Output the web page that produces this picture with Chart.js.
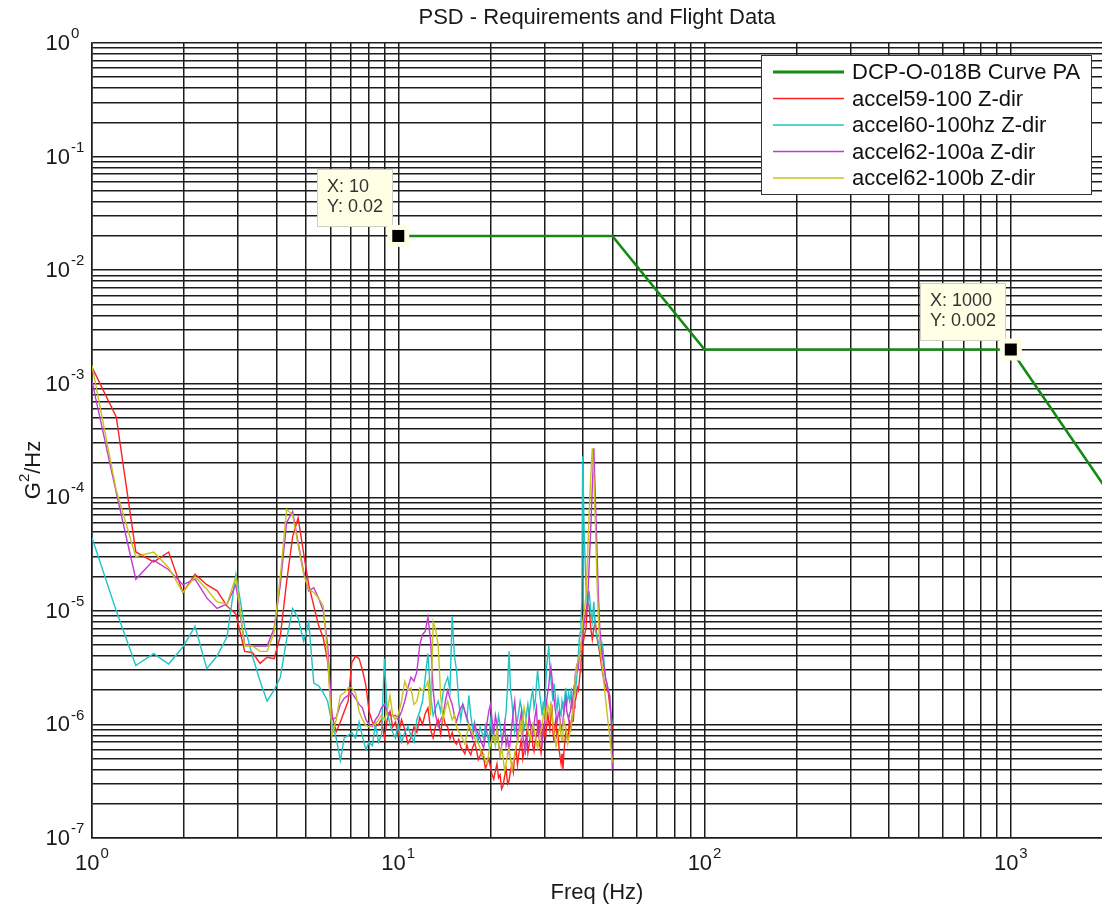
<!DOCTYPE html>
<html>
<head>
<meta charset="utf-8">
<title>PSD - Requirements and Flight Data</title>
<script src="https://cdn.jsdelivr.net/npm/chart.js@4.4.0/dist/chart.umd.min.js"></script>
<style>
  html, body { margin: 0; padding: 0; background: #fff; overflow: hidden; }
  #wrap { position: relative; width: 1104px; height: 909px; }
</style>
</head>
<body>
<div id="wrap"><canvas id="psd"></canvas></div>
<script>
// Frequency bins (Hz) shared by all flight accelerometer PSDs
const freqHz = [
  1.00, 1.20, 1.39, 1.59, 1.78, 1.98, 2.17, 2.37, 2.56, 2.76, 2.95, 3.15, 3.34, 3.54, 3.73, 3.93,
  4.12, 4.32, 4.52, 4.71, 4.91, 5.10, 5.30, 5.49, 5.69, 5.88, 6.08, 6.27, 6.47, 6.66, 6.86, 7.05,
  7.25, 7.45, 7.64, 7.84, 8.03, 8.23, 8.42, 8.62, 8.81, 9.01, 9.20, 9.40, 9.59, 9.79, 9.98,
  10.25, 10.5, 10.75, 11.0, 11.25, 11.5, 11.75, 12.0, 12.25, 12.5, 12.75, 13.0, 13.25, 13.5, 13.75, 14.0,
  14.25, 14.5, 14.75, 15.0, 15.25, 15.5, 15.75, 16.0, 16.25, 16.5, 16.75, 17.0, 17.25, 17.5, 17.75, 18.0,
  18.25, 18.5, 18.75, 19.0, 19.25, 19.5, 19.75, 20.0, 20.25, 20.5, 20.75, 21.0, 21.25, 21.5, 21.75, 22.0,
  22.25, 22.5, 22.75, 23.0, 23.25, 23.5, 23.75, 24.0, 24.25, 24.5, 24.75, 25.0, 25.25, 25.5, 25.75, 26.0,
  26.25, 26.5, 26.75, 27.0, 27.25, 27.5, 27.75, 28.0, 28.25, 28.5, 28.75, 29.0, 29.25, 29.5, 29.75, 30.0,
  30.25, 30.5, 30.75, 31.0, 31.25, 31.5, 31.75, 32.0, 32.25, 32.5, 32.75, 33.0, 33.25, 33.5, 33.75, 34.0,
  34.25, 34.5, 34.75, 35.0, 35.25, 35.5, 35.75, 36.0, 36.25, 36.5, 36.75, 37.0, 37.25, 37.5, 37.75, 38.0,
  38.25, 38.5, 38.75, 39.0, 39.25, 39.5, 39.75, 40.0,
  40.5, 41.0, 41.5, 42.0, 42.5, 43.0, 43.5, 44.0, 44.5, 45.0, 45.5, 46.0, 46.5, 47.0, 47.5, 48.0,
  48.5, 49.0, 49.5, 50.0
];

// G^2/Hz per bin
const accel59 = [
  1.4e-3, 5.1e-4, 3.3e-5, 2.7e-5, 3.3e-5, 1.45e-5, 2.1e-5, 1.7e-5, 1.5e-5, 1.1e-5, 9.4e-6, 4.4e-6, 4.3e-6, 3.45e-6, 3.9e-6, 3.8e-6,
  6.0e-6, 1.8e-5, 4.5e-5, 6.6e-5, 3.2e-5, 1.7e-5, 1.1e-5, 7.5e-6, 5.8e-6, 3.6e-6, 1.2e-6, 8.6e-7, 1.05e-6, 1.3e-6, 1.6e-6, 3.5e-6,
  4.0e-6, 3.8e-6, 3.0e-6, 2.2e-6, 1.3e-6, 1.05e-6, 9.6e-7, 1.0e-6, 1.1e-6, 7.6e-7, 1.1e-6, 1.3e-6, 9.5e-7, 1.05e-6, 8.0e-7,
  1.1e-6, 9.0e-7, 6.8e-7, 7.6e-7, 9.5e-7, 8.5e-7, 1.15e-6, 1.0e-6, 1.25e-6, 1.4e-6, 9.0e-7, 7.6e-7, 9.8e-7, 1.1e-6, 8.2e-7, 1.2e-6,
  1.0e-6, 9.5e-7, 7.5e-7, 8.5e-7, 7.0e-7, 6.7e-7, 7.4e-7, 6.3e-7, 5.9e-7, 5.5e-7, 6.6e-7, 5.8e-7, 5.4e-7, 6.3e-7, 6.9e-7, 6.0e-7,
  4.9e-7, 5.3e-7, 5.8e-7, 5.1e-7, 4.1e-7, 4.5e-7, 5.0e-7, 4.2e-7, 3.6e-7, 3.3e-7, 3.9e-7, 4.5e-7, 3.4e-7, 3.6e-7, 2.7e-7, 2.9e-7,
  3.5e-7, 4.0e-7, 3.0e-7, 3.2e-7, 3.9e-7, 4.5e-7, 3.8e-7, 5.3e-7, 6.0e-7, 4.4e-7, 5.5e-7, 6.3e-7, 7.6e-7, 5.0e-7, 5.8e-7, 7.0e-7,
  8.4e-7, 5.6e-7, 6.6e-7, 8.0e-7, 1.0e-6, 6.4e-7, 5.8e-7, 7.2e-7, 8.0e-7, 9.0e-7, 1.1e-6, 6.5e-7, 5.6e-7, 7.0e-7, 9.5e-7, 8.5e-7,
  7.4e-7, 9.5e-7, 1.3e-6, 1.05e-6, 9.0e-7, 1.2e-6, 1.5e-6, 8.5e-7, 7.0e-7, 1.0e-6, 1.15e-6, 7.5e-7, 8.8e-7, 6.0e-7, 5.2e-7, 4.5e-7,
  5.5e-7, 4.0e-7, 5.8e-7, 7.0e-7, 9.0e-7, 8.0e-7, 7.2e-7, 9.0e-7, 1.1e-6, 8.6e-7, 1.0e-6, 1.2e-6, 1.05e-6, 1.4e-6, 1.6e-6, 1.7e-6,
  1.9e-6, 2.1e-6, 2.0e-6, 2.4e-6, 2.9e-6, 3.5e-6, 4.2e-6, 4.9e-6,
  6.0e-6, 7.0e-6, 1.2e-5, 1.1e-5, 7.0e-6, 5.6e-6, 7.0e-6, 8.0e-6, 6.0e-6, 5.0e-6, 4.2e-6, 3.4e-6, 2.8e-6, 2.4e-6, 2.2e-6, 2.0e-6,
  1.9e-6, 1.5e-6, 1.2e-6, 9.0e-7
];

const accel60 = [
  4.4e-5, 1.0e-5, 3.3e-6, 4.2e-6, 3.4e-6, 4.8e-6, 7.3e-6, 3.1e-6, 4.0e-6, 5.9e-6, 2.1e-5, 7.3e-6, 4.0e-6, 2.4e-6, 1.6e-6, 2.0e-6,
  2.6e-6, 5.6e-6, 1.05e-5, 8.6e-6, 5.4e-6, 8.0e-6, 2.3e-6, 2.2e-6, 1.9e-6, 1.6e-6, 1.0e-6, 7.6e-7, 4.8e-7, 7.6e-7, 8.0e-7, 8.5e-7,
  7.6e-7, 1.05e-6, 7.8e-7, 6.0e-7, 7.0e-7, 6.5e-7, 1.0e-6, 7.0e-7, 8.0e-7, 3.8e-6, 1.3e-6, 1.0e-6, 8.5e-7, 7.6e-7, 1.0e-6,
  7.0e-7, 8.5e-7, 9.6e-7, 8.0e-7, 7.0e-7, 1.1e-6, 1.3e-6, 1.6e-6, 2.6e-6, 4.2e-6, 1.8e-6, 1.2e-6, 1.4e-6, 1.6e-6, 1.3e-6, 1.9e-6,
  2.3e-6, 2.6e-6, 2.0e-6, 9.0e-6, 4.0e-6, 3.0e-6, 1.6e-6, 1.1e-6, 1.5e-6, 1.3e-6, 1.1e-6, 1.8e-6, 1.2e-6, 9.0e-7, 1.05e-6, 8.0e-7,
  7.0e-7, 9.5e-7, 8.6e-7, 7.5e-7, 9.8e-7, 8.5e-7, 6.8e-7, 1.1e-6, 9.0e-7, 7.5e-7, 6.6e-7, 9.0e-7, 1.2e-6, 1.0e-6, 7.4e-7, 8.0e-7,
  1.0e-6, 1.3e-6, 2.2e-6, 4.4e-6, 2.0e-6, 1.6e-6, 1.1e-6, 8.5e-7, 9.5e-7, 1.1e-6, 1.3e-6, 1.6e-6, 1.4e-6, 1.2e-6, 9.0e-7, 1.0e-6,
  1.25e-6, 1.5e-6, 1.2e-6, 1.5e-6, 1.8e-6, 2.0e-6, 1.4e-6, 1.6e-6, 2.2e-6, 3.0e-6, 2.3e-6, 1.8e-6, 1.5e-6, 1.2e-6, 1.6e-6, 1.3e-6,
  2.0e-6, 3.2e-6, 4.0e-6, 4.9e-6, 3.3e-6, 2.5e-6, 2.0e-6, 1.6e-6, 2.3e-6, 1.9e-6, 1.5e-6, 1.35e-6, 1.7e-6, 1.5e-6, 1.25e-6, 1.2e-6,
  1.6e-6, 1.4e-6, 1.3e-6, 1.8e-6, 2.1e-6, 1.5e-6, 1.7e-6, 1.9e-6, 1.6e-6, 1.7e-6, 2.1e-6, 1.4e-6, 1.6e-6, 1.9e-6, 2.4e-6, 2.1e-6,
  2.6e-6, 3.0e-6, 4.2e-6, 5.6e-6, 6.5e-6, 8.0e-6, 1.2e-5, 2.3e-4,
  4.5e-5, 1.7e-5, 1.1e-5, 1.5e-5, 1.0e-5, 8.0e-6, 1.2e-5, 7.0e-6, 6.0e-6, 5.2e-6, 4.5e-6, 4.0e-6, 4.9e-6, 3.5e-6, 2.5e-6, 2.3e-6,
  2.0e-6, 1.8e-6, 1.2e-6, 1.0e-6
];

const accel62a = [
  1.05e-3, 1.1e-4, 1.9e-5, 2.8e-5, 2.3e-5, 1.7e-5, 1.9e-5, 1.3e-5, 1.05e-5, 1.15e-5, 1.7e-5, 5.1e-6, 4.9e-6, 4.9e-6, 4.9e-6, 7.0e-6,
  1.7e-5, 6.0e-5, 7.5e-5, 4.0e-5, 2.2e-5, 1.5e-5, 1.6e-5, 1.3e-5, 1.0e-5, 5.0e-6, 1.1e-6, 1.15e-6, 1.5e-6, 1.7e-6, 1.8e-6, 1.9e-6,
  1.7e-6, 1.5e-6, 1.4e-6, 1.1e-6, 1.0e-6, 9.6e-7, 1.1e-6, 1.2e-6, 1.4e-6, 1.5e-6, 1.3e-6, 1.2e-6, 1.2e-6, 1.2e-6, 1.1e-6,
  1.3e-6, 1.6e-6, 2.1e-6, 2.6e-6, 2.4e-6, 2.9e-6, 5.0e-6, 6.2e-6, 6.6e-6, 8.8e-6, 5.5e-6, 2.0e-6, 1.2e-6, 9.6e-7, 1.1e-6, 1.2e-6,
  1.6e-6, 2.0e-6, 1.7e-6, 1.5e-6, 1.2e-6, 1.05e-6, 1.25e-6, 1.4e-6, 1.5e-6, 1.3e-6, 1.15e-6, 1.0e-6, 8.5e-7, 7.5e-7, 1.0e-6, 9.0e-7,
  8.2e-7, 7.5e-7, 6.8e-7, 6.2e-7, 8.0e-7, 1.05e-6, 1.3e-6, 1.5e-6, 1.1e-6, 8.0e-7, 1.2e-6, 1.0e-6, 7.0e-7, 5.3e-7, 6.5e-7, 8.0e-7,
  1.0e-6, 6.5e-7, 7.6e-7, 5.7e-7, 7.4e-7, 1.0e-6, 1.3e-6, 1.6e-6, 1.1e-6, 7.0e-7, 9.0e-7, 1.1e-6, 1.3e-6, 8.0e-7, 6.6e-7, 5.7e-7,
  7.2e-7, 9.0e-7, 1.2e-6, 1.0e-6, 8.6e-7, 8.0e-7, 1.0e-6, 1.2e-6, 1.4e-6, 9.0e-7, 8.0e-7, 1.1e-6, 9.0e-7, 7.0e-7, 8.5e-7, 1.0e-6,
  1.3e-6, 1.6e-6, 1.9e-6, 2.2e-6, 2.8e-6, 3.2e-6, 2.6e-6, 2.0e-6, 1.7e-6, 1.4e-6, 1.2e-6, 1.05e-6, 1.2e-6, 1.3e-6, 1.1e-6, 9.0e-7,
  1.0e-6, 1.1e-6, 1.3e-6, 1.5e-6, 1.7e-6, 1.3e-6, 1.2e-6, 1.1e-6, 1.25e-6, 1.3e-6, 1.6e-6, 1.4e-6, 1.8e-6, 2.2e-6, 2.6e-6, 3.0e-6,
  3.3e-6, 3.5e-6, 3.2e-6, 4.0e-6, 4.4e-6, 5.0e-6, 5.4e-6, 5.9e-6,
  8.0e-6, 1.0e-5, 1.2e-5, 2.5e-5, 5.2e-5, 1.2e-4, 2.7e-4, 1.0e-4, 3.8e-5, 1.4e-5, 7.0e-6, 5.0e-6, 3.8e-6, 3.2e-6, 2.6e-6, 2.3e-6,
  2.0e-6, 1.8e-6, 1.2e-6, 4.0e-7
];

const accel62b = [
  1.45e-3, 1.15e-4, 3.0e-5, 3.3e-5, 2.4e-5, 1.45e-5, 2.0e-5, 1.55e-5, 1.2e-5, 1.15e-5, 2.0e-5, 4.9e-6, 4.9e-6, 4.4e-6, 4.4e-6, 6.4e-6,
  2.0e-5, 7.8e-5, 7.0e-5, 3.8e-5, 2.1e-5, 1.55e-5, 1.45e-5, 1.3e-5, 1.1e-5, 4.0e-6, 8.0e-7, 1.1e-6, 1.8e-6, 1.9e-6, 2.1e-6, 2.1e-6,
  1.9e-6, 1.3e-6, 1.1e-6, 9.8e-7, 9.5e-7, 9.8e-7, 1.0e-6, 1.1e-6, 1.2e-6, 1.1e-6, 1.3e-6, 1.8e-6, 1.2e-6, 1.1e-6, 1.2e-6,
  1.6e-6, 2.4e-6, 2.0e-6, 2.1e-6, 1.5e-6, 1.6e-6, 2.1e-6, 2.0e-6, 2.1e-6, 2.4e-6, 1.2e-6, 8.0e-6, 6.8e-6, 5.0e-6, 1.8e-6, 1.1e-6,
  1.4e-6, 1.6e-6, 1.3e-6, 1.1e-6, 1.2e-6, 9.6e-7, 8.6e-7, 8.1e-7, 7.4e-7, 6.7e-7, 8.2e-7, 1.0e-6, 9.0e-7, 8.5e-7, 7.6e-7, 7.0e-7,
  6.8e-7, 6.2e-7, 5.2e-7, 5.5e-7, 4.8e-7, 4.5e-7, 5.6e-7, 6.7e-7, 7.4e-7, 8.0e-7, 6.6e-7, 9.0e-7, 6.8e-7, 5.3e-7, 6.2e-7, 5.0e-7,
  3.9e-7, 4.5e-7, 5.6e-7, 6.2e-7, 5.0e-7, 4.0e-7, 4.6e-7, 5.5e-7, 6.4e-7, 7.0e-7, 8.6e-7, 1.0e-6, 8.0e-7, 1.1e-6, 1.4e-6, 1.2e-6,
  1.0e-6, 9.0e-7, 8.0e-7, 7.5e-7, 8.8e-7, 1.0e-6, 9.2e-7, 8.0e-7, 7.0e-7, 6.2e-7, 7.0e-7, 8.0e-7, 9.0e-7, 1.0e-6, 1.2e-6, 1.35e-6,
  1.1e-6, 1.2e-6, 1.5e-6, 1.4e-6, 1.2e-6, 1.6e-6, 1.3e-6, 1.0e-6, 8.5e-7, 7.5e-7, 6.4e-7, 7.0e-7, 8.0e-7, 9.0e-7, 1.0e-6, 8.0e-7,
  7.2e-7, 9.5e-7, 1.1e-6, 1.0e-6, 9.0e-7, 8.0e-7, 6.8e-7, 7.5e-7, 8.2e-7, 9.0e-7, 1.0e-6, 1.1e-6, 1.4e-6, 1.8e-6, 2.4e-6, 3.0e-6,
  3.2e-6, 3.5e-6, 3.8e-6, 4.0e-6, 4.6e-6, 5.2e-6, 6.4e-6, 8.0e-6,
  1.0e-5, 1.35e-5, 3.0e-5, 7.3e-5, 1.5e-4, 2.7e-4, 1.5e-4, 6.0e-5, 2.0e-5, 8.9e-6, 5.0e-6, 3.8e-6, 3.0e-6, 2.2e-6, 1.7e-6, 1.3e-6,
  1.0e-6, 8.0e-7, 6.0e-7, 4.6e-7
];

// DCP-O-018B requirement curve breakpoints
const reqHz = [10, 50, 100, 1000, 2000];
const reqPsd = [0.02, 0.02, 0.002, 0.002, 1.3e-4];

// Data tips shown on the requirement curve
const tipHz = [10, 1000];
const tipPsd = [0.02, 0.002];

const seriesNames = ['DCP-O-018B Curve PA', 'accel59-100 Z-dir', 'accel60-100hz Z-dir', 'accel62-100a Z-dir', 'accel62-100b Z-dir'];
const seriesColors = ['#138a13', '#ff2020', '#20c4c4', '#c438d4', '#c4c41c'];

const FONT = '"Liberation Sans", Arial, sans-serif';
const GRID = '#1c1c1c';

function toPoints(xs, ys) {
  return xs.map((x, i) => ({ x: x, y: ys[i] }));
}

// every decade plus the 2..9 minor lines
function logGrid(lo, hi) {
  const out = [];
  for (let e = Math.floor(Math.log10(lo)); e <= Math.ceil(Math.log10(hi)); e++) {
    for (let m = 1; m <= 9; m++) {
      const v = m * Math.pow(10, e);
      if (v >= lo * 0.999 && v <= hi * 1.001) out.push(v);
    }
  }
  return out;
}

function drawPow(ctx, exp, x, y, align) {
  ctx.font = '22px ' + FONT;
  const wb = ctx.measureText('10').width;
  ctx.font = '15px ' + FONT;
  const we = ctx.measureText(String(exp)).width;
  let x0;
  if (align === 'center') x0 = x - (wb + we + 1) / 2;
  else x0 = x - wb;  // base ends at x, exponent after it
  ctx.textBaseline = 'middle';
  ctx.textAlign = 'left';
  ctx.font = '22px ' + FONT;
  ctx.fillText('10', x0, y);
  ctx.font = '15px ' + FONT;
  ctx.fillText(String(exp), x0 + wb + 1, y - 10);
}

const decorations = {
  id: 'decorations',
  afterDraw(chart) {
    const ctx = chart.ctx;
    const xs = chart.scales.x, ys = chart.scales.y;
    ctx.save();
    ctx.fillStyle = '#1a1a1a';

    // title
    ctx.font = '22px ' + FONT;
    ctx.textAlign = 'center';
    ctx.textBaseline = 'middle';
    ctx.fillText('PSD - Requirements and Flight Data', 597, 18);

    // decade labels
    [0, 1, 2, 3].forEach(e => drawPow(ctx, e, xs.getPixelForValue(Math.pow(10, e)), 864, 'center'));
    for (let e = 0; e >= -7; e--) drawPow(ctx, e, 70, ys.getPixelForValue(Math.pow(10, e)) + 1, 'right');

    // axis titles
    ctx.font = '22px ' + FONT;
    ctx.textAlign = 'center';
    ctx.textBaseline = 'middle';
    ctx.fillText('Freq (Hz)', 597, 893);

    ctx.save();
    ctx.translate(34, 470);
    ctx.rotate(-Math.PI / 2);
    ctx.font = '22px ' + FONT;
    const wG = ctx.measureText('G').width;
    const wR = ctx.measureText('/Hz').width;
    ctx.font = '15px ' + FONT;
    const w2 = ctx.measureText('2').width;
    const lx = -(wG + w2 + wR) / 2;
    ctx.textAlign = 'left';
    ctx.font = '22px ' + FONT;
    ctx.fillText('G', lx, 0);
    ctx.font = '15px ' + FONT;
    ctx.fillText('2', lx + wG, -9);
    ctx.font = '22px ' + FONT;
    ctx.fillText('/Hz', lx + wG + w2, 0);
    ctx.restore();

    // data tips
    tipHz.forEach((f, i) => {
      const mx = xs.getPixelForValue(f);
      const my = ys.getPixelForValue(tipPsd[i]);
      const lines = ['X: ' + f, 'Y: ' + tipPsd[i]];
      ctx.font = '18px ' + FONT;
      const tw = Math.max(...lines.map(s => ctx.measureText(s).width));
      const bw = Math.round(tw + 20), bh = 58;
      const bx = Math.round(mx - 5 - bw), by = Math.round(my - 9 - bh);
      ctx.fillStyle = '#ffffe6';
      ctx.fillRect(bx, by, bw, bh);
      ctx.strokeStyle = '#cfcfc4';
      ctx.lineWidth = 1;
      ctx.strokeRect(bx + 0.5, by + 0.5, bw - 1, bh - 1);
      ctx.fillStyle = '#333333';
      ctx.textAlign = 'left';
      ctx.textBaseline = 'middle';
      ctx.fillText(lines[0], bx + 10, by + 18);
      ctx.fillText(lines[1], bx + 10, by + 38);
      ctx.fillStyle = '#ffffe6';
      ctx.fillRect(mx - 11, my - 11, 22, 22);
      ctx.fillStyle = '#000';
      ctx.fillRect(mx - 6, my - 6, 12, 12);
    });

    // legend
    const lx0 = 761, ly0 = 55, lw = 330, lh = 139;
    ctx.fillStyle = '#fff';
    ctx.fillRect(lx0, ly0, lw, lh);
    ctx.strokeStyle = '#333';
    ctx.lineWidth = 1;
    ctx.strokeRect(lx0 + 0.5, ly0 + 0.5, lw, lh);
    seriesNames.forEach((name, i) => {
      const yy = 72 + i * 26.5;
      ctx.strokeStyle = seriesColors[i];
      ctx.lineWidth = i === 0 ? 3 : 1.6;
      ctx.beginPath();
      ctx.moveTo(773, yy);
      ctx.lineTo(844, yy);
      ctx.stroke();
      ctx.fillStyle = '#111';
      ctx.font = '22px ' + FONT;
      ctx.textAlign = 'left';
      ctx.textBaseline = 'middle';
      ctx.fillText(name, 852, yy + 1);
    });
    ctx.restore();
  }
};

const flight = [accel59, accel60, accel62a, accel62b];

new Chart(document.getElementById('psd'), {
  type: 'line',
  data: {
    datasets: [
      {
        label: seriesNames[0],
        data: toPoints(reqHz, reqPsd),
        borderColor: seriesColors[0],
        borderWidth: 2.6,
        pointRadius: 0,
        order: 5
      },
      ...flight.map((vals, i) => ({
        label: seriesNames[i + 1],
        data: toPoints(freqHz, vals),
        borderColor: seriesColors[i + 1],
        borderWidth: 1.4,
        pointRadius: 0,
        order: 4 - i
      }))
    ]
  },
  plugins: [decorations],
  options: {
    responsive: true,
    maintainAspectRatio: false,
    animation: false,
    events: [],
    layout: { padding: { left: 92, top: 43, right: 1, bottom: 71 } },
    plugins: {
      legend: { display: false },
      title: { display: false },
      tooltip: { enabled: false }
    },
    scales: {
      x: {
        type: 'logarithmic',
        min: 1,
        max: 2000,
        afterBuildTicks: (scale) => { scale.ticks = logGrid(1, 2000).map(v => ({ value: v })); },
        ticks: { display: false },
        grid: { color: GRID, lineWidth: 1.5, drawTicks: false },
        border: { display: true, color: GRID, width: 1.5 }
      },
      y: {
        type: 'logarithmic',
        min: 1e-7,
        max: 1,
        afterBuildTicks: (scale) => { scale.ticks = logGrid(1e-7, 1).map(v => ({ value: v })); },
        ticks: { display: false },
        grid: { color: GRID, lineWidth: 1.5, drawTicks: false },
        border: { display: true, color: GRID, width: 1.5 }
      }
    }
  }
});
</script>
</body>
</html>
